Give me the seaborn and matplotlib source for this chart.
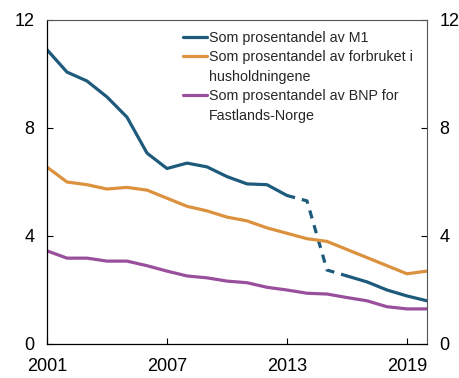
import matplotlib
matplotlib.use("Agg")
import matplotlib.pyplot as plt
import seaborn as sns
import pandas as pd

sns.set_theme(style="ticks")
plt.rcParams["font.family"] = ["Liberation Sans", "DejaVu Sans"]

years = list(range(2001, 2021))
m1 = [10.9, 10.07, 9.74, 9.15, 8.4, 7.07, 6.5, 6.7, 6.56, 6.2,
      5.93, 5.9, 5.5, 5.3, 2.74, 2.52, 2.3, 2.0, 1.78, 1.6]
consumption = [6.55, 6.0, 5.9, 5.74, 5.8, 5.7, 5.4, 5.1, 4.93, 4.7,
               4.56, 4.3, 4.1, 3.9, 3.8, 3.5, 3.2, 2.9, 2.6, 2.7]
gdp = [3.45, 3.18, 3.18, 3.07, 3.07, 2.9, 2.7, 2.52, 2.45, 2.33,
       2.27, 2.1, 2.0, 1.88, 1.85, 1.72, 1.6, 1.38, 1.3, 1.3]

# Legend rows: (text, colour or None for a continuation line)
legend_rows = [
    ("Som prosentandel av M1", "#1d5a7b"),
    ("Som prosentandel av forbruket i", "#dc913e"),
    ("husholdningene", None),
    ("Som prosentandel av BNP for", "#9a4f9c"),
    ("Fastlands-Norge", None),
]
colors = ["#1d5a7b", "#dc913e", "#9a4f9c"]

xticks = [2001, 2007, 2013, 2019]
yticks = [0, 4, 8, 12]

df = pd.DataFrame({"year": years, "m1": m1, "cons": consumption, "gdp": gdp})

fig = plt.figure(figsize=(4.6, 3.78), dpi=100)
ax = fig.add_axes([47 / 460, 1 - 344 / 378, 380 / 460, 324 / 378])

lw = 2.3
solid_a = df[df.year <= 2013]
broken = df[(df.year >= 2013) & (df.year <= 2016)]
solid_b = df[df.year >= 2016]

sns.lineplot(data=solid_a, x="year", y="m1", ax=ax, color=colors[0], lw=lw)
sns.lineplot(data=broken, x="year", y="m1", ax=ax, color=colors[0], lw=lw,
             linestyle=(0, (2.6, 2.2)), dash_capstyle="butt")
sns.lineplot(data=solid_b, x="year", y="m1", ax=ax, color=colors[0], lw=lw)
sns.lineplot(data=df, x="year", y="cons", ax=ax, color=colors[1], lw=lw)
sns.lineplot(data=df, x="year", y="gdp", ax=ax, color=colors[2], lw=lw)

ax.set_xlim(2001, 2020)
ax.set_ylim(0, 12)
ax.set_xticks(xticks)
ax.set_xticklabels([str(t) for t in xticks])
ax.set_yticks(yticks)
ax.set_xlabel("")
ax.set_ylabel("")
ax.tick_params(axis="both", direction="in", length=4, width=0.8,
               labelsize=13, color="black", labelcolor="black")
ax.tick_params(axis="y", left=True, right=True, labelleft=True,
               labelright=True, pad=9)
ax.tick_params(axis="x", pad=10)
for side in ["left", "bottom"]:
    ax.spines[side].set_color("black")
    ax.spines[side].set_linewidth(0.9)
for side in ["right", "top"]:
    ax.spines[side].set_visible(True)
    ax.spines[side].set_color("#555555")
    ax.spines[side].set_linewidth(0.8)

handles = []
for text, col in legend_rows:
    if col is None:
        handles.append(plt.Line2D([], [], color="none", lw=lw))
    else:
        handles.append(plt.Line2D([], [], color=col, lw=lw))
leg = ax.legend(handles, [r[0] for r in legend_rows], loc="upper left",
                bbox_to_anchor=(0.358, 0.966), frameon=False,
                fontsize=10.3, handlelength=1.7, handletextpad=0.1,
                borderpad=0, borderaxespad=0, labelspacing=0.38)

fig.savefig("out.png", dpi=100)
